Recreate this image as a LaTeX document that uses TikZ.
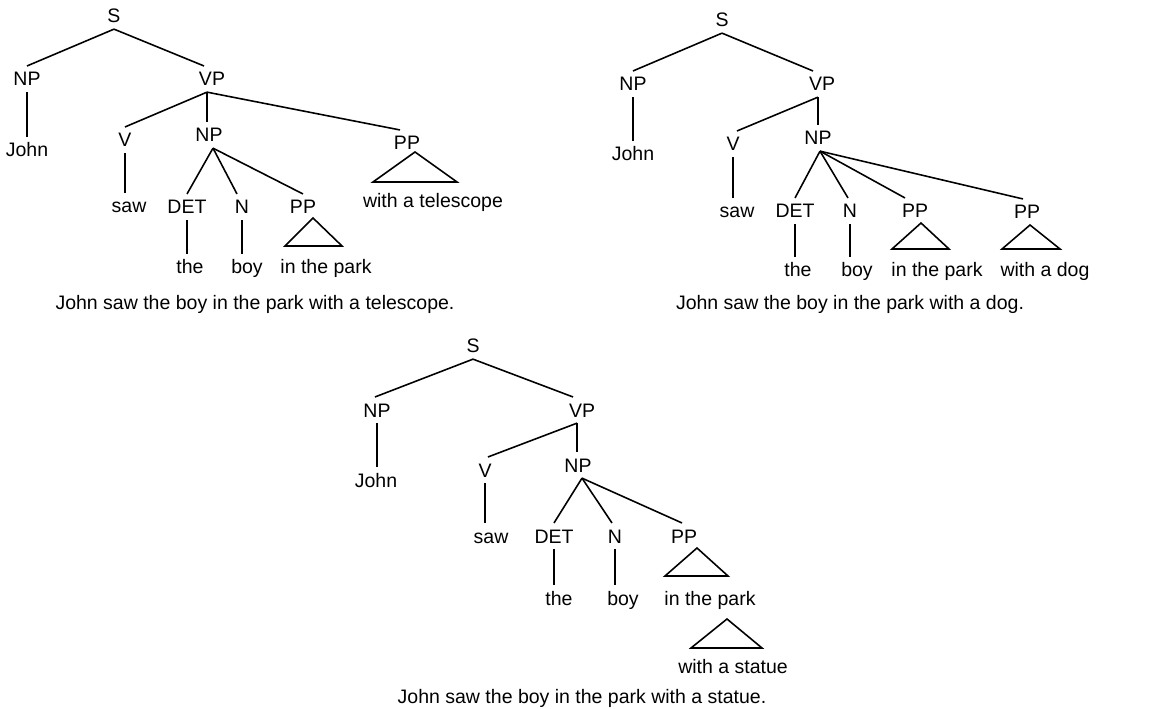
\documentclass[tikz,border=0pt]{standalone}
\usepackage{fontspec}
\setmainfont{Liberation Sans}
\begin{document}
\begin{tikzpicture}[x=0.02cm,y=-0.02cm,
  lab/.style={anchor=base,inner sep=0pt,outer xsep=0pt,outer ysep=3.5pt,
    text height=7.9pt,text depth=0pt,font=\fontsize{11.1pt}{13pt}\selectfont},
  edge/.style={line width=0.9pt,line join=miter}]
\useasboundingbox (0,0) rectangle (1152,709);
% ---------------- Tree 1 ----------------
\node[lab] (s1) at (114,23) {S};
\node[lab] (np1) at (27,86) {NP};
\node[lab] (vp1) at (212,86) {VP};
\node[lab] (john1) at (27,157) {John};
\node[lab] (v1) at (125,147) {V};
\node[lab] (npb1) at (209,142) {NP};
\node[lab] (ppa1) at (407,150) {PP};
\node[lab] (tele1) at (433,208) {with a telescope};
\node[lab] (saw1) at (129,213) {saw};
\node[lab] (det1) at (187,214) {DET};
\node[lab] (n1) at (242,214) {N};
\node[lab] (ppb1) at (303,214) {PP};
\node[lab] (the1) at (190,274) {the};
\node[lab] (boy1) at (247,274) {boy};
\node[lab] (park1) at (326,274) {in the park};
\node[lab] (cap1) at (255,310) {John saw the boy in the park with a telescope.};
\draw[edge] (s1.south) -- (np1.north);
\draw[edge] (s1.south) -- ([xshift=-0.16cm]vp1.north);
\draw[edge] (np1.south) -- (john1.north -| np1.south);
\draw[edge] ([xshift=-0.1cm]vp1.south) -- (v1.north);
\draw[edge] ([xshift=-0.1cm]vp1.south) -- ([xshift=-0.04cm]npb1.north);
\draw[edge] ([xshift=-0.1cm]vp1.south) -- ([xshift=-0.14cm]ppa1.north);
\draw[edge] (v1.south) -- (saw1.north -| v1.south);
\draw[edge] ([xshift=0.08cm]npb1.south) -- (det1.north);
\draw[edge] ([xshift=0.08cm]npb1.south) -- ([xshift=-0.1cm]n1.north);
\draw[edge] ([xshift=0.08cm]npb1.south) -- (ppb1.north);
\draw[edge] (det1.south) -- (the1.north -| det1.south);
\draw[edge] (n1.south) -- (boy1.north -| n1.south);
\draw[edge] ([xshift=0.16cm,yshift=-0.04cm]ppa1.base) -- ++(-42,30) -- ++(84,0) -- cycle;
\draw[edge] ([xshift=0.2cm,yshift=-0.08cm]ppb1.base) -- ++(-28,28) -- ++(57,0) -- cycle;
% ---------------- Tree 2 ----------------
\node[lab] (s2) at (722,27) {S};
\node[lab] (np2) at (633,91) {NP};
\node[lab] (vp2) at (822,91) {VP};
\node[lab] (john2) at (633,161) {John};
\node[lab] (v2) at (733,151) {V};
\node[lab] (npb2) at (818,145) {NP};
\node[lab] (saw2) at (737,218) {saw};
\node[lab] (det2) at (795,218) {DET};
\node[lab] (n2) at (850,218) {N};
\node[lab] (ppa2) at (915,218) {PP};
\node[lab] (ppb2) at (1027,219) {PP};
\node[lab] (the2) at (798,277) {the};
\node[lab] (boy2) at (857,277) {boy};
\node[lab] (park2) at (937,277) {in the park};
\node[lab] (dog2) at (1045,277) {with a dog};
\node[lab] (cap2) at (850,310) {John saw the boy in the park with a dog.};
\draw[edge] (s2.south) -- (np2.north);
\draw[edge] (s2.south) -- ([xshift=-0.18cm]vp2.north);
\draw[edge] (np2.south) -- (john2.north -| np2.south);
\draw[edge] ([xshift=-0.08cm]vp2.south) -- ([xshift=0.08cm]v2.north);
\draw[edge] ([xshift=-0.08cm]vp2.south) -- (npb2.north);
\draw[edge] (v2.south) -- (saw2.north -| v2.south);
\draw[edge] ([xshift=0.04cm]npb2.south) -- (det2.north);
\draw[edge] ([xshift=0.04cm]npb2.south) -- ([xshift=-0.04cm]n2.north);
\draw[edge] ([xshift=0.04cm]npb2.south) -- ([xshift=-0.2cm]ppa2.north);
\draw[edge] ([xshift=0.04cm]npb2.south) -- ([xshift=-0.08cm]ppb2.north);
\draw[edge] (det2.south) -- (the2.north -| det2.south);
\draw[edge] (n2.south) -- (boy2.north -| n2.south);
\draw[edge] ([xshift=0.12cm,yshift=-0.1cm]ppa2.base) -- ++(-29,26) -- ++(57,0) -- cycle;
\draw[edge] ([xshift=0.06cm,yshift=-0.12cm]ppb2.base) -- ++(-28,24) -- ++(58,0) -- cycle;
% ---------------- Tree 3 ----------------
\node[lab] (s3) at (473,353) {S};
\node[lab] (np3) at (377,417) {NP};
\node[lab] (vp3) at (582,417) {VP};
\node[lab] (john3) at (376,487) {John};
\node[lab] (v3) at (485,477) {V};
\node[lab] (npb3) at (578,472) {NP};
\node[lab] (saw3) at (491,543) {saw};
\node[lab] (det3) at (554,543) {DET};
\node[lab] (n3) at (615,543) {N};
\node[lab] (pp3) at (684,543) {PP};
\node[lab] (the3) at (559,605) {the};
\node[lab] (boy3) at (623,605) {boy};
\node[lab] (park3) at (710,605) {in the park};
\node[lab] (statue3) at (733,673) {with a statue};
\node[lab] (cap3) at (582,703) {John saw the boy in the park with a statue.};
\draw[edge] (s3.south) -- ([xshift=-0.04cm]np3.north);
\draw[edge] (s3.south) -- ([xshift=-0.18cm]vp3.north);
\draw[edge] (np3.south) -- (john3.north -| np3.south);
\draw[edge] ([xshift=-0.1cm]vp3.south) -- ([xshift=0.06cm]v3.north);
\draw[edge] ([xshift=-0.1cm]vp3.south) -- ([xshift=-0.1cm]npb3.north -| vp3.south);
\draw[edge] (v3.south) -- (saw3.north -| v3.south);
\draw[edge] ([xshift=0.08cm]npb3.south) -- (det3.north);
\draw[edge] ([xshift=0.08cm]npb3.south) -- ([xshift=-0.06cm]n3.north);
\draw[edge] ([xshift=0.08cm]npb3.south) -- ([xshift=-0.04cm]pp3.north);
\draw[edge] (det3.south) -- (the3.north -| det3.south);
\draw[edge] (n3.south) -- (boy3.north -| n3.south);
\draw[edge] ([xshift=0.26cm,yshift=-0.1cm]pp3.base) -- ++(-32,28) -- ++(63,0) -- cycle;
\draw[edge] ([xshift=0.34cm,yshift=-0.28cm]park3.base) -- ++(-36,29) -- ++(71,0) -- cycle;
\end{tikzpicture}
\end{document}
